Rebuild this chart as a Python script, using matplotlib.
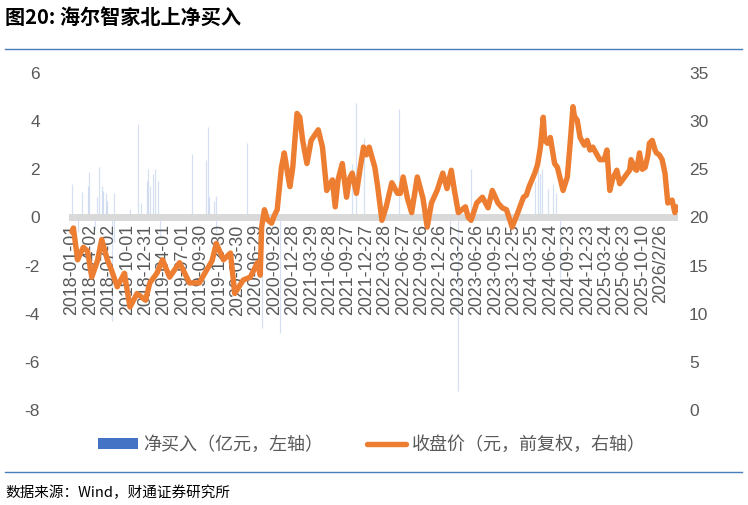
import matplotlib
matplotlib.use("Agg")
import matplotlib.pyplot as plt
from matplotlib.lines import Line2D
from matplotlib.patches import Patch

plt.rcParams['font.family'] = ['Noto Sans CJK SC', 'DejaVu Sans']

# ---- data (weekly index since 2018-01-01) ----
tick_labels = ["2018-01-01", "2018-04-02", "2018-07-02", "2018-10-01", "2018-12-31",
               "2019-04-01", "2019-07-01", "2019-09-30", "2019-12-30", "2020-03-30",
               "2020-06-29", "2020-09-28", "2020-12-28", "2021-03-29", "2021-06-28",
               "2021-09-27", "2021-12-27", "2022-03-28", "2022-06-27", "2022-09-26",
               "2022-12-26", "2023-03-27", "2023-06-26", "2023-09-25", "2023-12-25",
               "2024-03-25", "2024-06-24", "2024-09-23", "2024-12-23", "2025-03-24",
               "2025-06-23", "2025-10-10", "2026/2/26"]
tick_week = [13 * i for i in range(len(tick_labels))]

price_week = [0, 1, 4, 8, 11, 14, 18, 21, 25, 28, 32, 37, 41, 46, 52, 55, 60, 64, 69, 76,
              83, 90, 95, 99, 102, 107, 112, 115, 121, 126, 131, 133, 134, 136, 138, 141, 143,
              145, 148, 150, 153, 154, 156, 159, 161, 163, 166, 169, 174, 177, 180, 184, 186,
              188, 191, 194, 196, 198, 201, 203, 206, 208, 210, 214, 216, 219, 222, 226, 230,
              232, 234, 237, 240, 244, 248, 251, 254, 258, 262, 265, 268, 270, 273, 278, 280,
              282, 286, 290, 294, 297, 301, 304, 307, 311, 315, 319, 321, 323, 327, 329, 331,
              333, 334, 336, 338, 340, 341, 343, 347, 350, 352, 354, 355, 357, 359, 362, 364,
              366, 368, 371, 373, 376, 378, 380, 382, 385, 387, 389, 392, 394, 395, 398, 399,
              401, 403, 405, 407, 408, 410, 412, 413, 415, 417, 419, 421, 424, 426, 427]
price_val = [18.5, 18.9, 15.6, 16.9, 16.5, 13.8, 15.5, 17.7, 15.6, 14.5, 12.8, 14.2, 10.7,
             12.1, 11.4, 13.2, 14.2, 15.6, 13.8, 15.3, 13.2, 13.2, 14.5, 15.5, 17.3, 15.6,
             16.3, 12.1, 13.5, 13.8, 15.3, 14.0, 19.0, 20.8, 19.8, 19.4, 20.2, 20.8, 25.2,
             26.7, 24.0, 23.2, 25.2, 30.8, 30.4, 28.0, 25.6, 28.0, 29.1, 27.3, 22.8, 23.9,
             21.1, 23.9, 25.6, 22.1, 24.0, 24.6, 22.5, 24.5, 27.3, 26.5, 27.3, 25.2, 23.2,
             19.7, 21.1, 23.6, 22.5, 22.5, 24.2, 22.0, 20.5, 24.2, 22.0, 19.0, 21.5, 22.8,
             24.6, 23.0, 24.9, 23.0, 20.5, 21.1, 20.0, 19.7, 21.5, 22.1, 21.0, 22.8, 21.5,
             21.0, 20.8, 19.0, 20.5, 22.1, 22.3, 23.2, 24.6, 25.5, 27.3, 30.4, 28.0, 27.7,
             28.3, 26.5, 25.6, 25.2, 22.8, 24.2, 27.7, 31.5, 30.5, 30.1, 28.3, 27.5, 28.0,
             27.0, 27.3, 26.5, 26.0, 26.0, 27.0, 22.8, 24.0, 24.9, 23.5, 23.9, 24.5, 24.9,
             26.0, 25.0, 24.9, 26.7, 25.0, 25.2, 26.5, 27.7, 28.0, 27.0, 26.7, 26.5, 26.0,
             24.6, 21.5, 21.8, 20.5, 21.1]

flow_week = [0, 4, 7, 11, 12, 16, 18, 19, 21, 22, 24, 25, 28, 30, 30, 41, 47, 49, 53, 54,
             55, 57, 59, 61, 62, 85, 95, 96, 97, 100, 102, 102, 124, 134, 147, 198, 201, 206,
             231, 267, 273, 282, 327, 329, 331, 332, 336, 340, 342, 345]
flow_val = [1.4, -0.6, 1.05, 1.3, 1.9, -0.5, 0.85, 2.1, 1.3, 1.1, 1.0, 0.7, -4.3, 1.0, -1.0,
            0.35, 3.9, 0.6, 1.5, 2.0, 1.3, 1.8, 2.0, 1.5, -0.8, 2.65, 2.4, 3.75, 0.85, 0.7,
            0.9, -0.6, 3.1, -4.6, -4.8, 2.2, 4.75, 3.3, 4.5, -0.8, -7.2, 2.0, 1.5, 2.4, 1.8,
            2.0, 1.2, 1.4, 1.0, -2.5]

left_ticks = [-8, -6, -4, -2, 0, 2, 4, 6]
right_ticks = [0, 5, 10, 15, 20, 25, 30, 35]

series_names = ["净买入（亿元，左轴）", "收盘价（元，前复权，右轴）"]
title = "图20: 海尔智家北上净买入"
source = "数据来源：Wind，财通证券研究所"

BLUE = "#4472C4"
ORANGE = "#ED7D31"
GREY_TXT = "#595959"

W, H = 748, 505
fig = plt.figure(figsize=(W / 100, H / 100), dpi=100)
ax = fig.add_axes([69 / W, 1 - 410 / H, (678 - 69) / W, (410 - 73) / H])
ax2 = ax.twinx()

# net buy bars (thin)
ax.vlines(flow_week, 0, flow_val, colors=BLUE, linewidth=0.9, alpha=0.22, zorder=1)
ax.axhline(0, color="#D9D9D9", linewidth=5, zorder=2)
ax.set_ylim(-8, 6)
ax.set_xlim(-2.1, 428.2)
ax.set_yticks(left_ticks)
ax.set_yticklabels([str(v) for v in left_ticks], family="Liberation Sans", fontsize=12.5, color=GREY_TXT)
ax.tick_params(axis="y", length=0, pad=21)
ax.set_xticks([])

ax2.plot(price_week, price_val, color=ORANGE, linewidth=3.9, solid_joinstyle="round",
         solid_capstyle="round", zorder=3)
ax2.set_ylim(0, 35)
ax2.set_yticks(right_ticks)
ax2.set_yticklabels([str(v) for v in right_ticks], family="Liberation Sans", fontsize=12.5, color=GREY_TXT)
ax2.tick_params(axis="y", length=0, pad=8)

for a in (ax, ax2):
    for s in a.spines.values():
        s.set_visible(False)
ax.set_zorder(ax2.get_zorder() - 1)
ax2.patch.set_visible(False)
ax.patch.set_visible(False)

# x tick labels drawn at the zero line
for wk, lab in zip(tick_week, tick_labels):
    ax.annotate(lab, xy=(wk, 0), xytext=(0, -5), textcoords="offset points",
                rotation=90, ha="center", va="top", family="Liberation Sans",
                fontsize=12.8, color=GREY_TXT, zorder=5, annotation_clip=False)

# title and rules
fig.text(5 / W, 1 - 17 / H, title, fontsize=14.5, fontweight="bold", va="center", ha="left",
         color="black")
fig.add_artist(Line2D([5 / W, 742 / W], [1 - 49 / H, 1 - 49 / H], color="#4A7EBB", linewidth=1.0))
fig.add_artist(Line2D([5 / W, 742 / W], [1 - 472 / H, 1 - 472 / H], color="#4A7EBB", linewidth=1.0))
fig.text(5 / W, 1 - 493 / H, source, fontsize=10.5, va="center", ha="left", color="black")

# legend
handles = [Patch(facecolor=BLUE, edgecolor="none"),
           Line2D([0], [0], color=ORANGE, linewidth=3.9, solid_capstyle="round")]
leg = fig.legend(handles, series_names, loc="center", bbox_to_anchor=(372 / W, 1 - 445 / H),
                 ncol=2, frameon=False, fontsize=13, handlelength=2.2, handleheight=0.5,
                 columnspacing=2.4, handletextpad=0.3)
for t in leg.get_texts():
    t.set_color(GREY_TXT)

fig.savefig("out.png", dpi=100)
